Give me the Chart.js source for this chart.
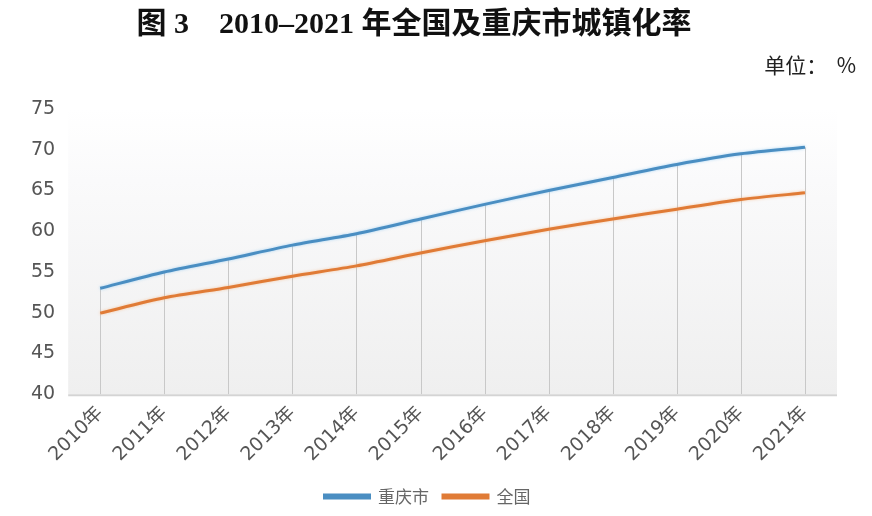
<!DOCTYPE html>
<html>
<head>
<meta charset="utf-8">
<script src="https://cdn.jsdelivr.net/npm/chart.js@4"></script>
<style>
  html, body { margin: 0; padding: 0; background: #fff; }
  #wrap { width: 872px; height: 516px; }
</style>
</head>
<body>
<div id="wrap"><canvas id="urbanization" width="872" height="516"></canvas></div>
<script>
const years = ["2010年", "2011年", "2012年", "2013年", "2014年", "2015年", "2016年", "2017年", "2018年", "2019年", "2020年", "2021年"];
const chongqing = [53.0, 55.0, 56.6, 58.3, 59.7, 61.5, 63.3, 65.0, 66.6, 68.2, 69.5, 70.3];
const national = [49.95, 51.83, 53.10, 54.49, 55.75, 57.33, 58.84, 60.24, 61.50, 62.71, 63.89, 64.72];
const yTicks = [40, 45, 50, 55, 60, 65, 70, 75];
const titleText = "图 3　2010–2021 年全国及重庆市城镇化率";
const unitLabel = "单位：  %";

const canvas = document.getElementById("urbanization");

// light grey wall behind the plot, drop lines from the upper series, title and unit text
const plotDecor = {
  id: "plotDecor",
  beforeDatasetsDraw(chart) {
    const { ctx, chartArea } = chart;
    const { left, right, top, bottom } = chartArea;
    const grad = ctx.createLinearGradient(0, top, 0, bottom);
    grad.addColorStop(0, "#ffffff");
    grad.addColorStop(0.25, "#fafafb");
    grad.addColorStop(1, "#efefef");
    ctx.save();
    ctx.fillStyle = grad;
    ctx.fillRect(left, top, right - left, bottom - top);

    ctx.strokeStyle = "#c8c8c8";
    ctx.lineWidth = 1;
    const xScale = chart.scales.x;
    const yScale = chart.scales.y;
    years.forEach((_, i) => {
      const x = Math.round(xScale.getPixelForValue(i)) + 0.5;
      const yTop = yScale.getPixelForValue(Math.max(chongqing[i], national[i]));
      ctx.beginPath();
      ctx.moveTo(x, yTop);
      ctx.lineTo(x, bottom);
      ctx.stroke();
    });

    ctx.strokeStyle = "#d4d4d4";
    ctx.lineWidth = 2;
    ctx.beginPath();
    ctx.moveTo(left, bottom + 1);
    ctx.lineTo(right, bottom + 1);
    ctx.stroke();
    ctx.restore();
  },
  beforeDatasetDraw(chart, args) {
    const ctx = chart.ctx;
    ctx.save();
    ctx.shadowColor = args.index === 0 ? "rgba(120,190,240,0.6)" : "rgba(245,170,110,0.6)";
    ctx.shadowBlur = 3;
  },
  afterDatasetDraw(chart) {
    chart.ctx.restore();
  },
  afterDraw(chart) {
    const ctx = chart.ctx;
    ctx.save();
    ctx.fillStyle = "#111";
    ctx.textAlign = "center";
    ctx.textBaseline = "middle";
    ctx.font = "bold 30px 'Liberation Serif', 'Noto Sans CJK SC', serif";
    ctx.fillText(titleText, 414, 25);

    ctx.font = "21px 'Noto Sans CJK SC', sans-serif";
    ctx.fillStyle = "#222";
    ctx.textAlign = "right";
    ctx.fillText(unitLabel, chart.width - 16, 65);
    ctx.restore();
  }
};

new Chart(canvas, {
  type: "line",
  data: {
    labels: years,
    datasets: [
      {
        label: "重庆市",
        data: chongqing,
        borderColor: "#4a8ec2",
        backgroundColor: "#4a8ec2",
        borderWidth: 3,
        pointRadius: 0,
        tension: 0.25,
      },
      {
        label: "全国",
        data: national,
        borderColor: "#e07b36",
        backgroundColor: "#e07b36",
        borderWidth: 3,
        pointRadius: 0,
        tension: 0.25,
      },
    ],
  },
  options: {
    responsive: false,
    animation: false,
    layout: { padding: { left: 18, right: 35, top: 109, bottom: 1 } },
    plugins: {
      title: { display: false },
      legend: {
        position: "bottom",
        labels: {
          boxWidth: 45,
          boxHeight: 3,
          color: "#666",
          padding: 14,
          font: { family: "'Noto Sans CJK SC', serif", size: 17 },
        },
      },
      tooltip: { enabled: false },
    },
    scales: {
      x: {
        offset: true,
        grid: { display: false, drawTicks: false },
        border: { display: false },
        ticks: {
          color: "#555",
          minRotation: 45,
          maxRotation: 45,
          padding: 8,
          font: { family: "'DejaVu Sans', 'Noto Sans CJK SC', sans-serif", size: 19 },
        },
      },
      y: {
        min: 40,
        max: 75,
        afterBuildTicks(axis) {
          axis.ticks = yTicks.map((v) => ({ value: v }));
        },
        grid: { display: false, drawTicks: false },
        border: { display: false },
        ticks: {
          color: "#555",
          padding: 13,
          font: { family: "'DejaVu Sans', sans-serif", size: 19 },
        },
      },
    },
  },
  plugins: [plotDecor],
});
</script>
</body>
</html>
